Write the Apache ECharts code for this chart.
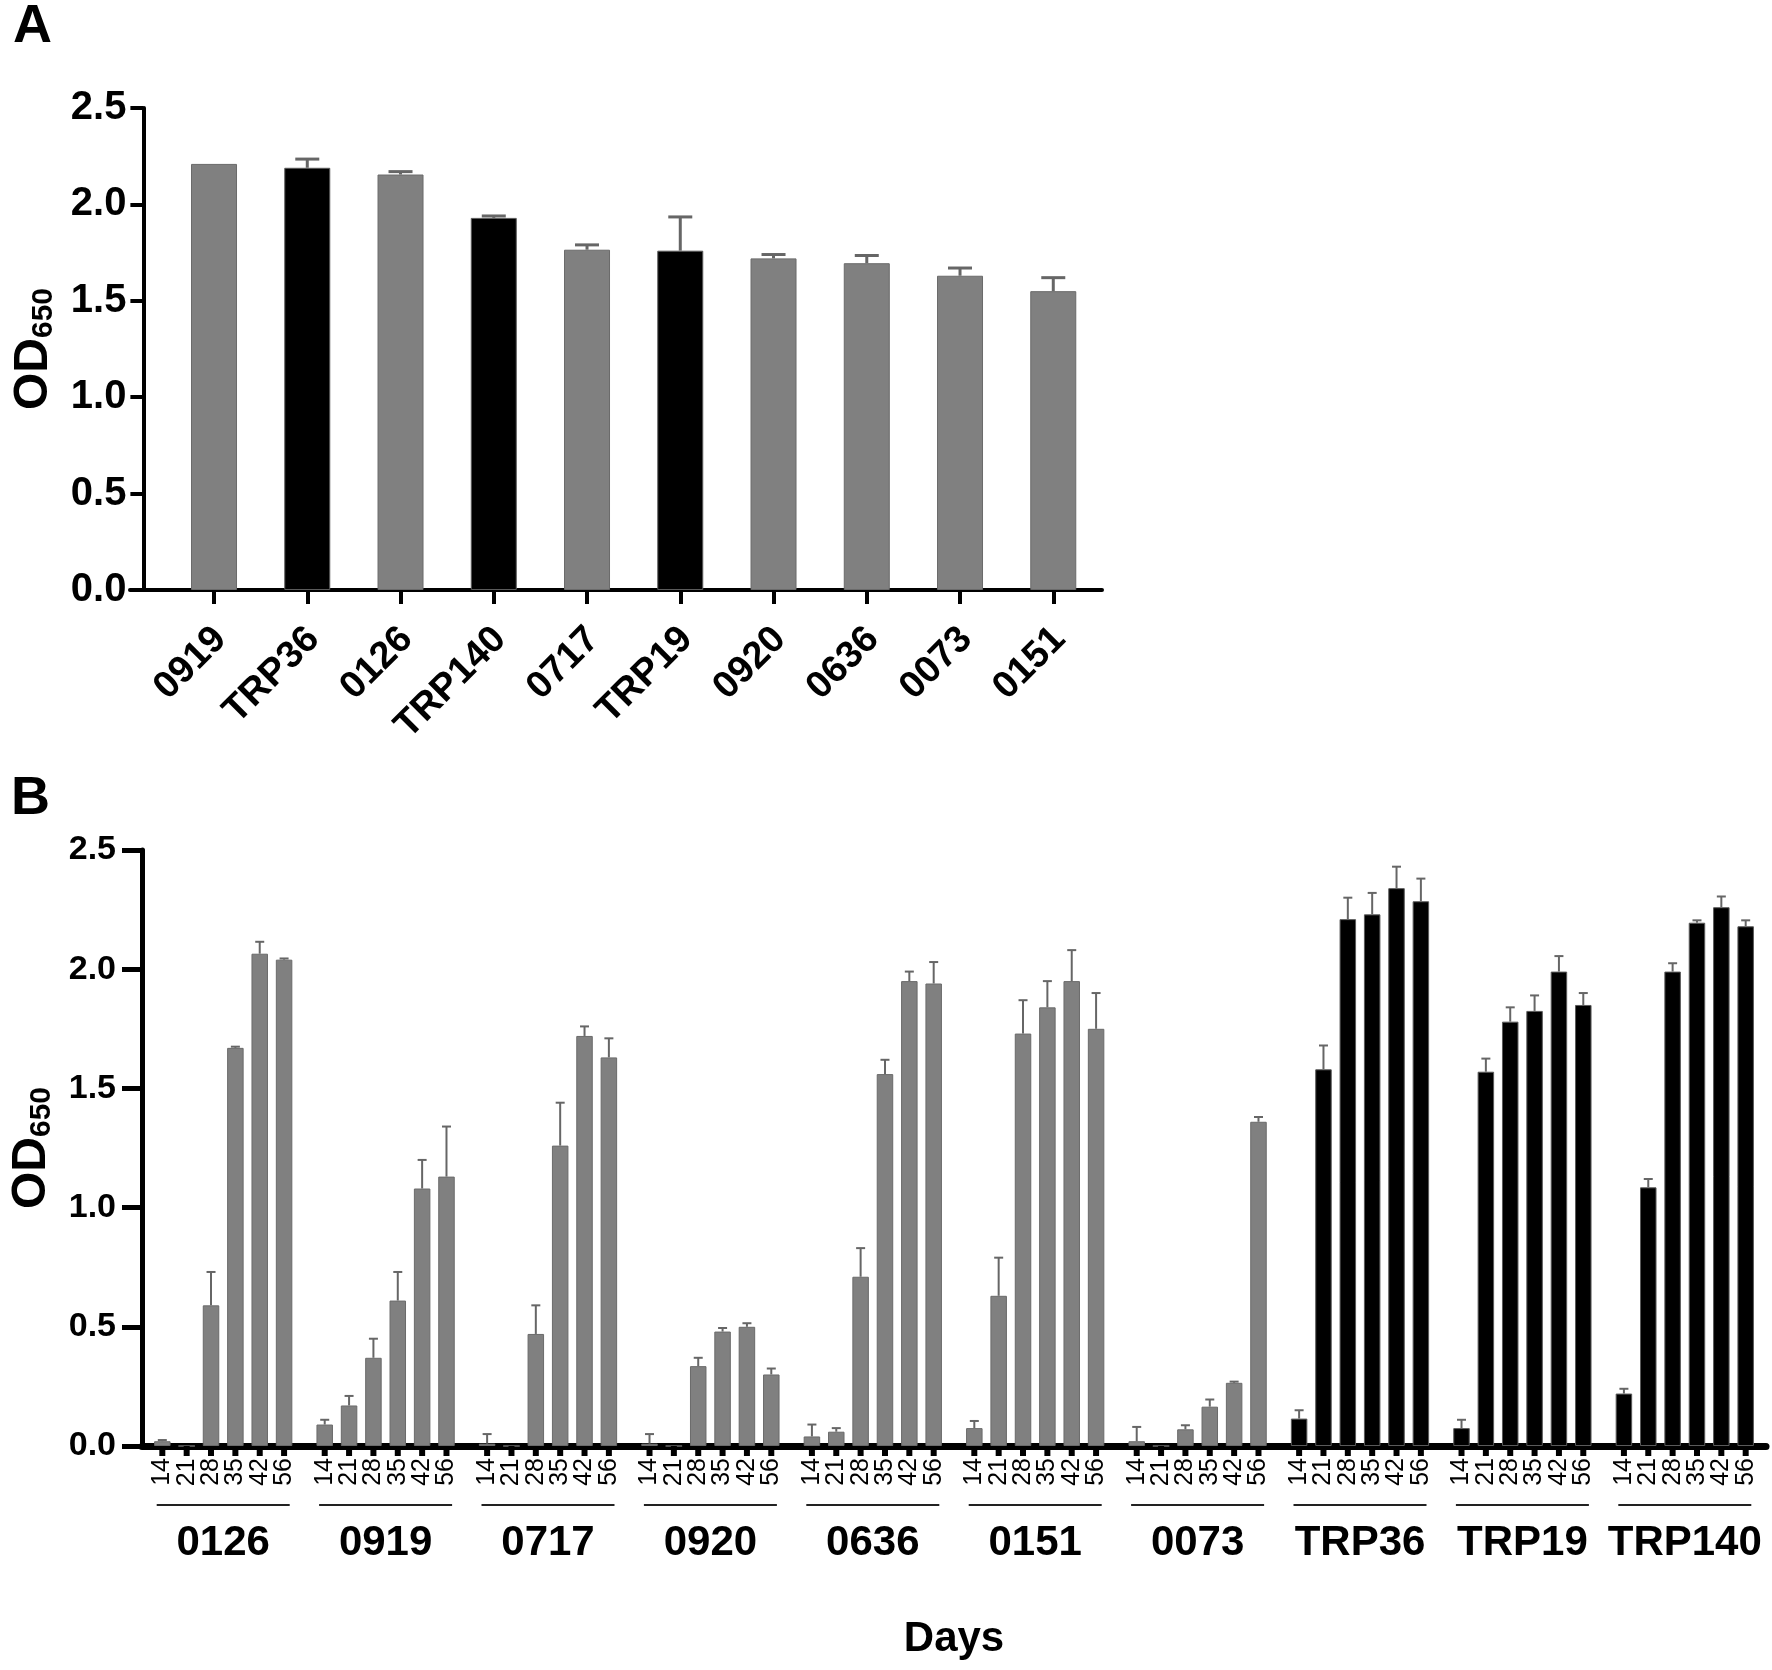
<!DOCTYPE html>
<html>
<head>
<meta charset="utf-8">
<script src="https://cdn.jsdelivr.net/npm/echarts@6/dist/echarts.min.js"></script>
<style>
html,body{margin:0;padding:0;background:#fff;}
#c{width:1772px;height:1670px;}
</style>
</head>
<body>
<div id="c"></div>
<script>
const FONT = "'Liberation Sans', Arial, Helvetica, sans-serif";

// ---------- Panel A data ----------
const catsA = ['0919', 'TRP36', '0126', 'TRP140', '0717', 'TRP19', '0920', '0636', '0073', '0151'];
const meanA = [2.21, 2.19, 2.155, 1.93, 1.765, 1.76, 1.72, 1.695, 1.63, 1.55];
const errTopA = [null, 2.235, 2.17, 1.94, 1.79, 1.935, 1.74, 1.735, 1.67, 1.62];

// ---------- Panel B data ----------
const groupsB = ['0126', '0919', '0717', '0920', '0636', '0151', '0073', 'TRP36', 'TRP19', 'TRP140'];
const days = ['14', '21', '28', '35', '42', '56'];
const m0126 = [0.02, 0, 0.59, 1.67, 2.065, 2.04];
const e0126 = [0.025, null, 0.73, 1.675, 2.115, 2.045];
const m0919 = [0.09, 0.17, 0.37, 0.61, 1.08, 1.13];
const e0919 = [0.11, 0.21, 0.45, 0.73, 1.20, 1.34];
const m0717 = [0.01, 0, 0.47, 1.26, 1.72, 1.63];
const e0717 = [0.05, null, 0.59, 1.44, 1.76, 1.71];
const m0920 = [0.01, 0, 0.335, 0.48, 0.50, 0.30];
const e0920 = [0.05, null, 0.37, 0.495, 0.515, 0.325];
const m0636 = [0.04, 0.06, 0.71, 1.56, 1.95, 1.94];
const e0636 = [0.09, 0.075, 0.83, 1.62, 1.99, 2.03];
const m0151 = [0.075, 0.63, 1.73, 1.84, 1.95, 1.75];
const e0151 = [0.105, 0.79, 1.87, 1.95, 2.08, 1.90];
const m0073 = [0.02, 0, 0.07, 0.165, 0.265, 1.36];
const e0073 = [0.08, null, 0.087, 0.195, 0.27, 1.38];
const mTRP36 = [0.115, 1.58, 2.21, 2.23, 2.34, 2.285];
const eTRP36 = [0.15, 1.68, 2.30, 2.32, 2.43, 2.38];
const mTRP19 = [0.075, 1.57, 1.78, 1.825, 1.99, 1.85];
const eTRP19 = [0.11, 1.625, 1.84, 1.89, 2.055, 1.90];
const mTRP140 = [0.22, 1.085, 1.99, 2.195, 2.26, 2.18];
const eTRP140 = [0.24, 1.12, 2.025, 2.205, 2.305, 2.205];

const meanB = [m0126, m0919, m0717, m0920, m0636, m0151, m0073, mTRP36, mTRP19, mTRP140];
const errB  = [e0126, e0919, e0717, e0920, e0636, e0151, e0073, eTRP36, eTRP19, eTRP140];

// ---------- styles ----------
const GRAY = '#808080', GRAY_EDGE = '#6a6a6a', BLACK = '#000000', BLACK_EDGE = '#5a5a5a';
const ERR = '#666666';
const isTRP = n => n.indexOf('TRP') === 0;
const BW_B = 16.5, GAP_B = 0.476;
const SPACING_B = BW_B * (1 + GAP_B);

const odName = {
  rich: {
    a: { fontSize: 48, fontWeight: 'bold', color: '#000', fontFamily: FONT, lineHeight: 54 },
    b: { fontSize: 30, fontWeight: 'bold', color: '#000', fontFamily: FONT, height: 34, verticalAlign: 'bottom' }
  }
};

const chart = echarts.init(document.getElementById('c'), null, { renderer: 'canvas' });

const seriesB = days.map((d, di) => ({
  type: 'bar',
  name: d,
  xAxisIndex: 1,
  yAxisIndex: 1,
  barWidth: BW_B,
  barGap: (GAP_B * 100) + '%',
  data: groupsB.map((g, gi) => ({
    value: meanB[gi][di],
    itemStyle: {
      color: isTRP(g) ? BLACK : GRAY,
      borderColor: isTRP(g) ? BLACK_EDGE : GRAY_EDGE,
      borderWidth: 1
    }
  })),
  label: {
    show: true,
    position: 'bottom',
    distance: 12,
    rotate: 90,
    align: 'right',
    verticalAlign: 'middle',
    formatter: d,
    fontSize: 25,
    color: '#000',
    fontFamily: FONT
  },
  z: 2
}));

const errDataB = [];
groupsB.forEach((g, gi) => days.forEach((d, di) => {
  errDataB.push([gi, di, meanB[gi][di], errB[gi][di]]);
}));

const option = {
  animation: false,
  backgroundColor: '#fff',
  textStyle: { fontFamily: FONT },
  title: [
    { text: 'A', left: 13, top: 0, padding: 0, textStyle: { fontSize: 54, fontWeight: 'bold', color: '#000', fontFamily: FONT } },
    { text: 'B', left: 11, top: 772, padding: 0, textStyle: { fontSize: 54, fontWeight: 'bold', color: '#000', fontFamily: FONT } }
  ],
  grid: [
    { left: 167.4, top: 108, width: 932.5, height: 482 },
    { left: 141, top: 850, width: 1625, height: 596 },
    { left: 130, top: 108, width: 972, height: 482 }
  ],
  xAxis: [
    {
      gridIndex: 0, type: 'category', data: catsA,
      axisLine: { show: false },
      axisTick: { show: true, alignWithLabel: true, length: 14, lineStyle: { width: 4, color: '#000' } },
      axisLabel: { rotate: 45, interval: 0, margin: 23, verticalAlign: 'top', padding: [0, 10, 0, 0], fontSize: 38, fontWeight: 'bold', color: '#000', fontFamily: FONT }
    },
    {
      gridIndex: 1, type: 'category', data: groupsB,
      axisLine: { show: true, onZero: false, lineStyle: { width: 7, color: '#000' } },
      axisTick: { show: false },
      axisLabel: {
        interval: 0, margin: 58,
        formatter: v => '{u|}\n{n|' + v + '}',
        rich: {
          u: { width: 133, height: 2, lineHeight: 2, backgroundColor: '#222' },
          n: { fontSize: 42, fontWeight: 'bold', lineHeight: 74, color: '#000', fontFamily: FONT }
        }
      },
      name: 'Days', nameLocation: 'middle', nameGap: 172,
      nameTextStyle: { fontSize: 42, fontWeight: 'bold', color: '#000', fontFamily: FONT }
    },
    {
      gridIndex: 2, type: 'value', min: 0, max: 1,
      axisLine: { show: true, onZero: false, lineStyle: { width: 4, color: '#000' } },
      axisTick: { show: false }, axisLabel: { show: false }, splitLine: { show: false }
    }
  ],
  yAxis: [
    {
      gridIndex: 0, type: 'value', min: 0, max: 2.5, interval: 0.5, offset: 24,
      axisLine: { show: true, lineStyle: { width: 4, color: '#000' } },
      axisTick: { show: true, length: 13, lineStyle: { width: 4, color: '#000' } },
      splitLine: { show: false },
      axisLabel: { fontSize: 40, fontWeight: 'bold', color: '#000', margin: 17, fontFamily: FONT, formatter: v => v.toFixed(1) },
      name: '{a|OD}{b|650}', nameLocation: 'middle', nameRotate: 90, nameGap: 83,
      nameTextStyle: odName
    },
    {
      gridIndex: 1, type: 'value', min: 0, max: 2.5, interval: 0.5,
      axisLine: { show: true, lineStyle: { width: 5, color: '#000' } },
      axisTick: { show: true, length: 20, lineStyle: { width: 5, color: '#000' } },
      splitLine: { show: false },
      axisLabel: { fontSize: 34, fontWeight: 'bold', color: '#000', margin: 26, fontFamily: FONT, formatter: v => v.toFixed(1) },
      name: '{a|OD}{b|650}', nameLocation: 'middle', nameRotate: 90, nameGap: 83,
      nameTextStyle: odName
    },
    { gridIndex: 2, type: 'value', min: 0, max: 1, show: false }
  ],
  series: [
    {
      type: 'bar', xAxisIndex: 0, yAxisIndex: 0, barWidth: 46,
      data: meanA.map((v, i) => ({
        value: v,
        itemStyle: {
          color: isTRP(catsA[i]) ? BLACK : GRAY,
          borderColor: isTRP(catsA[i]) ? BLACK_EDGE : GRAY_EDGE,
          borderWidth: 1
        }
      })),
      z: 2
    },
    {
      type: 'custom', xAxisIndex: 0, yAxisIndex: 0, z: 3,
      data: meanA.map((v, i) => [i, v, errTopA[i] == null ? NaN : errTopA[i]]),
      encode: { x: 0, y: 1 },
      renderItem: (params, api) => {
        const i = api.value(0), v = api.value(1), e = api.value(2);
        if (isNaN(e)) return null;
        const p0 = api.coord([i, v]);
        const p1 = api.coord([i, e]);
        const st = { stroke: ERR, lineWidth: 3 };
        return {
          type: 'group',
          children: [
            { type: 'line', shape: { x1: p0[0], y1: p0[1], x2: p1[0], y2: p1[1] }, style: st },
            { type: 'line', shape: { x1: p1[0] - 12, y1: p1[1], x2: p1[0] + 12, y2: p1[1] }, style: st }
          ]
        };
      }
    },
    ...seriesB,
    {
      type: 'custom', xAxisIndex: 1, yAxisIndex: 1, z: 3, clip: false,
      data: errDataB.map(r => [r[0], r[1], r[2], r[3] == null ? NaN : r[3]]),
      encode: { x: 0, y: 2 },
      renderItem: (params, api) => {
        const gi = api.value(0), di = api.value(1), v = api.value(2), e = api.value(3);
        const base = api.coord([gi, 0]);
        const cx = base[0] + (di - 2.5) * SPACING_B;
        const children = [
          { type: 'rect', shape: { x: cx - 3, y: base[1], width: 6, height: 10 }, style: { fill: '#000' } }
        ];
        if (!isNaN(e)) {
          const yv = api.coord([gi, v])[1];
          const ye = api.coord([gi, e])[1];
          const st = { stroke: ERR, lineWidth: 2 };
          children.push({ type: 'line', shape: { x1: cx, y1: yv, x2: cx, y2: ye }, style: st });
          children.push({ type: 'line', shape: { x1: cx - 4.5, y1: ye, x2: cx + 4.5, y2: ye }, style: st });
        }
        return { type: 'group', children };
      }
    }
  ]
};

chart.setOption(option);
</script>
</body>
</html>
